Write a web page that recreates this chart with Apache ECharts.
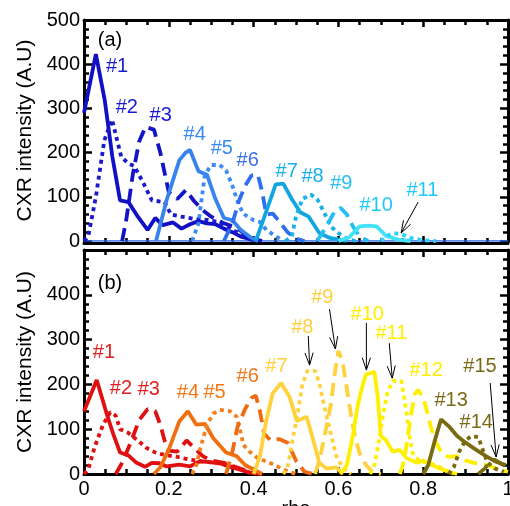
<!DOCTYPE html>
<html>
<head>
<meta charset="utf-8">
<script src="https://cdn.jsdelivr.net/npm/echarts@6.0.0/dist/echarts.min.js"></script>
<style>
  html, body { margin: 0; padding: 0; background: #fff; }
  #chart { width: 510px; height: 506px; }
</style>
</head>
<body>
<div id="chart"></div>
<script>
// ---- panel (a): [rho, intensity]
const a1 = [[0,290],[0.028,423],[0.049,318],[0.067,190],[0.085,92],[0.105,88],[0.127,55],[0.15,25],[0.168,52],[0.186,36],[0.21,42],[0.23,28],[0.25,38],[0.27,45],[0.29,40],[0.31,38],[0.33,28],[0.35,20],[0.37,10],[0.39,5],[0.41,0]];
const a2 = [[0,0],[0.01,10],[0.028,100],[0.048,228],[0.066,275],[0.088,190],[0.105,175],[0.118,170],[0.138,135],[0.16,92],[0.19,88],[0.205,60],[0.23,55],[0.26,50],[0.29,48],[0.32,42],[0.35,25],[0.38,10],[0.4,0]];
const a3 = [[0.09,0],[0.1,50],[0.115,150],[0.13,225],[0.145,258],[0.165,252],[0.18,200],[0.2,110],[0.22,95],[0.24,115],[0.26,90],[0.28,70],[0.3,55],[0.33,40],[0.36,30],[0.38,15],[0.4,5],[0.42,0]];
const a4 = [[0.17,0],[0.195,93],[0.225,183],[0.24,200],[0.25,206],[0.27,158],[0.29,150],[0.31,95],[0.33,52],[0.35,47],[0.37,25],[0.39,10],[0.41,0]];
const a5 = [[0.255,0],[0.27,40],[0.285,150],[0.3,172],[0.32,172],[0.335,160],[0.35,125],[0.36,95],[0.375,62],[0.4,47],[0.415,43],[0.43,25],[0.45,12],[0.47,0]];
const a6 = [[0.33,0],[0.35,40],[0.365,90],[0.38,125],[0.395,148],[0.41,150],[0.42,112],[0.43,60],[0.445,62],[0.46,45],[0.48,20],[0.5,5],[0.52,0]];
const a7 = [[0.405,0],[0.42,40],[0.44,95],[0.452,128],[0.47,130],[0.49,95],[0.51,65],[0.53,55],[0.555,18],[0.58,7],[0.62,0]];
const a8 = [[0.475,0],[0.49,10],[0.5,55],[0.515,95],[0.535,105],[0.55,95],[0.567,63],[0.583,32],[0.6,18],[0.62,5],[0.64,0]];
const a9 = [[0.55,0],[0.57,30],[0.59,65],[0.605,75],[0.62,60],[0.635,32],[0.65,10],[0.67,0]];
const a10 = [[0.6,0],[0.625,8],[0.65,33],[0.67,35],[0.69,33],[0.712,12],[0.74,3],[0.77,0]];
const a11 = [[0.7,0],[0.715,12],[0.73,18],[0.75,15],[0.77,7],[0.8,2],[0.83,0]];
const aBase = [[0,0],[1,0]];

// ---- panel (b)
const b1 = [[0,140],[0.03,210],[0.053,136],[0.068,92],[0.085,48],[0.104,42],[0.124,25],[0.144,16],[0.16,25],[0.178,24],[0.195,17],[0.225,21],[0.25,17],[0.272,28],[0.29,27],[0.32,24],[0.345,16],[0.37,9],[0.39,3],[0.42,0]];
const b2 = [[0,0],[0.01,10],[0.025,60],[0.045,110],[0.062,138],[0.075,130],[0.085,100],[0.104,92],[0.12,80],[0.148,58],[0.17,47],[0.195,42],[0.22,38],[0.25,32],[0.28,28],[0.31,25],[0.34,20],[0.37,10],[0.4,0]];
const b3 = [[0.075,0],[0.09,25],[0.11,70],[0.13,120],[0.15,145],[0.168,140],[0.18,110],[0.19,75],[0.2,52],[0.22,50],[0.242,75],[0.26,58],[0.28,40],[0.3,30],[0.33,25],[0.36,15],[0.39,5],[0.42,0]];
const b4 = [[0.165,0],[0.18,15],[0.2,55],[0.225,118],[0.245,140],[0.265,110],[0.285,112],[0.305,80],[0.335,48],[0.36,40],[0.38,20],[0.4,10],[0.42,0]];
const b5 = [[0.255,0],[0.265,20],[0.275,60],[0.29,110],[0.305,135],[0.32,143],[0.345,140],[0.36,128],[0.368,98],[0.376,65],[0.39,50],[0.41,35],[0.43,28],[0.45,20],[0.47,10],[0.5,0]];
const b6 = [[0.335,0],[0.35,50],[0.362,105],[0.38,145],[0.395,170],[0.405,175],[0.415,140],[0.425,90],[0.44,75],[0.46,78],[0.48,70],[0.49,50],[0.5,30],[0.52,5],[0.54,0]];
const b7 = [[0.4,0],[0.415,40],[0.43,120],[0.445,180],[0.465,203],[0.485,172],[0.502,118],[0.525,128],[0.54,78],[0.555,25],[0.572,12],[0.595,15],[0.61,0]];
const b8 = [[0.47,0],[0.48,15],[0.492,76],[0.504,136],[0.515,200],[0.527,230],[0.545,230],[0.555,203],[0.567,150],[0.58,98],[0.595,40],[0.61,15],[0.63,0]];
const b9 = [[0.545,0],[0.555,30],[0.567,83],[0.575,120],[0.583,160],[0.59,215],[0.6,275],[0.61,250],[0.62,190],[0.63,130],[0.64,80],[0.65,47],[0.665,20],[0.68,5],[0.7,0]];
const b10 = [[0.605,0],[0.62,20],[0.635,90],[0.645,150],[0.655,190],[0.665,222],[0.685,228],[0.693,170],[0.7,85],[0.712,76],[0.728,50],[0.745,54],[0.76,36],[0.785,25],[0.8,30],[0.82,20],[0.84,12],[0.86,5],[0.88,0]];
const b11 = [[0.675,0],[0.685,20],[0.695,70],[0.705,130],[0.715,180],[0.728,208],[0.748,208],[0.755,172],[0.762,128],[0.768,83],[0.775,47],[0.79,30],[0.81,25],[0.83,20],[0.85,10],[0.87,0]];
const b12 = [[0.745,0],[0.755,30],[0.763,80],[0.772,136],[0.78,178],[0.788,188],[0.8,170],[0.81,136],[0.818,105],[0.83,70],[0.845,45],[0.86,38],[0.88,40],[0.9,30],[0.92,25],[0.95,20],[0.98,10],[1,5]];
const b13 = [[0.8,0],[0.812,20],[0.826,70],[0.842,122],[0.862,105],[0.88,85],[0.9,70],[0.925,54],[0.948,40],[0.97,28],[0.995,20]];
const b14 = [[0.86,0],[0.872,15],[0.885,50],[0.9,76],[0.915,85],[0.93,82],[0.942,50],[0.952,25],[0.97,12],[0.99,5]];
const b15 = [[0.93,0],[0.945,12],[0.955,24],[0.968,32],[0.985,22],[1,15]];

const aSeries = [a1, a2, a3, a4, a5, a6, a7, a8, a9, a10, a11];
const bSeries = [b1, b2, b3, b4, b5, b6, b7, b8, b9, b10, b11, b12, b13, b14, b15];
const aColors = ['#1010c4', '#1a1acc', '#1414c6', '#3884ec', '#3a8cf2', '#2f6ef0', '#12a6e0', '#18b2ea', '#26bef0', '#44e2f8', '#30d2f8'];
const bColors = ['#e01010', '#e01010', '#e01010', '#f07010', '#f28020', '#f06a10', '#ffd23c', '#ffd23c', '#ffd23c', '#fff000', '#fff000', '#fff000', '#7a6a10', '#7a6a10', '#7a6a10'];

// labels "#n" at [rho, intensity]
const aLabelPos = [[0.078,394],[0.101,303],[0.181,283],[0.261,240],[0.325,210],[0.386,183],[0.478,158],[0.539,147],[0.607,129],[0.689,81],[0.798,115]];
const aLabelColors = ['#1a1ad0','#1a1ad0','#1a1ad0','#3a8af0','#3a8af0','#3a70f0','#18b0e8','#18b0e8','#28c0f0','#20c8f8','#20c8f8'];
const bLabelPos = [[0.047,272],[0.087,190],[0.153,188],[0.245,183],[0.308,181],[0.386,217],[0.454,241],[0.515,326],[0.562,395],[0.668,357],[0.725,313],[0.807,230],[0.866,163],[0.925,114],[0.934,241]];
const bLabelColors = ['#e02020','#e02020','#e02020','#f07818','#f07818','#f07818','#ffd040','#ffd040','#ffd040','#ffee00','#ffee00','#ffee00','#7a6a18','#7a6a18','#7a6a18'];

// arrows [from, to] in [rho, intensity]
const aArrows = [[[0.788,88],[0.748,18]]];
const bArrows = [
  [[0.529,308],[0.532,243]],
  [[0.579,368],[0.593,279]],
  [[0.666,337],[0.666,232]],
  [[0.72,292],[0.727,214]],
  [[0.958,203],[0.972,38]]
];

const FONT = '"Liberation Sans", Arial, sans-serif';
const dashStyles = ['solid', [4, 4], [13, 7]];

function xAx(grid, pos, labels, offset) {
  return {
    type: 'value', gridIndex: grid, position: pos, min: 0, max: 1, interval: 0.2, offset: offset || 0,
    axisLine: { show: true, onZero: false, lineStyle: { color: '#000', width: 3 } },
    axisTick: { show: true, inside: true, length: 7, lineStyle: { color: '#000', width: 2.5 } },
    minorTick: { show: true, splitNumber: 4, length: 5, lineStyle: { color: '#000', width: 2.5 } },
    splitLine: { show: false },
    axisLabel: { show: labels, color: '#000', fontSize: 20, fontFamily: FONT, margin: 5 },
    name: labels ? 'rho' : '', nameLocation: 'middle', nameGap: 20,
    nameTextStyle: { color: '#000', fontSize: 20, fontFamily: FONT }
  };
}
function yAx(grid, pos, labels, hideTop) {
  return {
    type: 'value', gridIndex: grid, position: pos, min: 0, max: 500, interval: 100,
    axisLine: { show: true, onZero: false, lineStyle: { color: '#000', width: 3 } },
    axisTick: { show: true, inside: true, length: 8, lineStyle: { color: '#000', width: 2.5 } },
    minorTick: { show: true, splitNumber: 5, length: 5, lineStyle: { color: '#000', width: 2.5 } },
    splitLine: { show: false },
    axisLabel: {
      show: labels, color: '#000', fontSize: 20, fontFamily: FONT, margin: 4,
      formatter: v => (hideTop && v === 500) ? '' : String(v)
    },
    name: labels ? 'CXR intensity (A.U)' : '', nameLocation: 'middle', nameGap: 46,
    nameTextStyle: { color: '#000', fontSize: 21, fontFamily: FONT }
  };
}

function mkSeries(list, colors, axIdx) {
  return list.map((d, i) => ({
    type: 'line', xAxisIndex: axIdx, yAxisIndex: axIdx, data: d,
    symbol: 'none', silent: true, animation: false,
    lineStyle: { color: colors[i], width: 3.8, type: dashStyles[i % 3] }
  }));
}

const chart = echarts.init(document.getElementById('chart'), null, { renderer: 'canvas' });
chart.setOption({
  animation: false,
  backgroundColor: '#fff',
  grid: [
    { left: 84, top: 20, width: 424, height: 221, outerBoundsMode: 'none' },
    { left: 84, top: 250, width: 424, height: 224, outerBoundsMode: 'none' }
  ],
  xAxis: [xAx(0, 'bottom', false, 2), xAx(0, 'top', false), xAx(1, 'bottom', true), xAx(1, 'top', false)],
  yAxis: [yAx(0, 'left', true, false), yAx(0, 'right', false, false), yAx(1, 'left', true, true), yAx(1, 'right', false, false)],
  series: [{
    type: 'line', xAxisIndex: 0, yAxisIndex: 0, data: aBase, symbol: 'none', silent: true,
    lineStyle: { color: '#2a66e6', width: 1.5 }
  }].concat(mkSeries(aSeries, aColors, 0), mkSeries(bSeries, bColors, 2))
});

// annotations placed through the axes
const g = [];
function addLabels(grid, pos, colors) {
  pos.forEach((p, i) => {
    const px = chart.convertToPixel({ gridIndex: grid }, p);
    g.push({
      type: 'text', x: px[0], y: px[1], z: 100,
      style: { text: '#' + (i + 1), fill: colors[i], font: '20px ' + FONT,
        textAlign: 'center', textVerticalAlign: 'middle', align: 'center', verticalAlign: 'middle' }
    });
  });
}
function addArrows(grid, arrows) {
  arrows.forEach(ar => {
    const p0 = chart.convertToPixel({ gridIndex: grid }, ar[0]);
    const p1 = chart.convertToPixel({ gridIndex: grid }, ar[1]);
    const ang = Math.atan2(p1[1] - p0[1], p1[0] - p0[0]);
    const L = 13, w = 0.32;
    const h1 = [p1[0] - L * Math.cos(ang - w), p1[1] - L * Math.sin(ang - w)];
    const h2 = [p1[0] - L * Math.cos(ang + w), p1[1] - L * Math.sin(ang + w)];
    g.push({ type: 'line', z: 100, shape: { x1: p0[0], y1: p0[1], x2: p1[0], y2: p1[1] }, style: { stroke: '#000', lineWidth: 1 } });
    g.push({ type: 'polyline', z: 100, shape: { points: [h1, p1, h2] }, style: { stroke: '#000', lineWidth: 1, fill: null } });
  });
}
addLabels(0, aLabelPos, aLabelColors);
addLabels(1, bLabelPos, bLabelColors);
addArrows(0, aArrows);
addArrows(1, bArrows);
g.push({ type: 'text', x: 110, y: 40, z: 100, style: { text: '(a)', fill: '#000', font: '20px ' + FONT, textAlign: 'center', textVerticalAlign: 'middle', align: 'center', verticalAlign: 'middle' } });
g.push({ type: 'text', x: 110, y: 283, z: 100, style: { text: '(b)', fill: '#000', font: '20px ' + FONT, textAlign: 'center', textVerticalAlign: 'middle', align: 'center', verticalAlign: 'middle' } });
chart.setOption({ graphic: g });
</script>
</body>
</html>
